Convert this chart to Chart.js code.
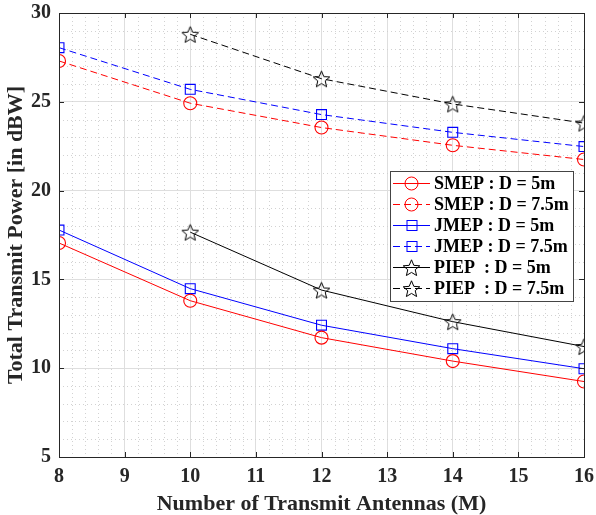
<!DOCTYPE html>
<html>
<head>
<meta charset="utf-8">
<script src="https://cdn.jsdelivr.net/npm/chart.js@4.4.1/dist/chart.umd.min.js"></script>
<style>
  html, body { margin: 0; padding: 0; background: #fff; }
  #wrap { width: 596px; height: 515px; }
</style>
</head>
<body>
<div id="wrap"><canvas id="c" width="596" height="515"></canvas></div>
<script>
// Công suất phát tổng theo số anten phát.
const antennas = [8, 10, 12, 14, 16];
const smep5 = [17.05, 13.8, 11.72, 10.4, 9.25];
const smep75 = [27.3, 24.92, 23.55, 22.55, 21.75];
const jmep5 = [17.78, 14.48, 12.42, 11.1, 9.97];
const jmep75 = [28.05, 25.7, 24.28, 23.28, 22.48];
const piep5 = [null, 17.66, 14.4, 12.62, 11.22];
const piep75 = [null, 28.8, 26.3, 24.88, 23.8];
const xTicks = [8, 9, 10, 11, 12, 13, 14, 15, 16];
const yTicks = [5, 10, 15, 20, 25, 30];

const FONT = '"Liberation Serif", "Times New Roman", serif';
const RED = '#ff0000', BLUE = '#0000ff', BLACK = '#000000';
const DASH = [7, 4];

// ngôi sao 5 cánh rỗng (pointStyle 'star' của Chart.js là dấu *)
function starImage(size) {
    const cv = document.createElement('canvas');
    cv.width = size; cv.height = size;
    const g = cv.getContext('2d');
    const cx = size / 2, cy = size / 2 + 1, R = size / 2 - 0.8, r = R * 0.45;
    g.beginPath();
    for (let i = 0; i < 10; i++) {
        const a = -Math.PI / 2 + i * Math.PI / 5;
        const rr = i % 2 ? r : R;
        const px = cx + rr * Math.cos(a), py = cy + rr * Math.sin(a);
        i ? g.lineTo(px, py) : g.moveTo(px, py);
    }
    g.closePath();
    g.strokeStyle = BLACK; g.lineWidth = 1; g.lineJoin = 'miter'; g.stroke();
    return cv;
}
const STAR = starImage(19);

const pts = (vals) => antennas.map((m, i) => ({ x: m, y: vals[i] })).filter((p) => p.y != null);

const series = [
    { label: 'SMEP : D = 5m', vals: smep5, color: RED, style: 'circle', r: 6.5, dash: [] },
    { label: 'SMEP : D = 7.5m', vals: smep75, color: RED, style: 'circle', r: 6.5, dash: DASH },
    { label: 'JMEP : D = 5m', vals: jmep5, color: BLUE, style: 'rect', r: 7, dash: [] },
    { label: 'JMEP : D = 7.5m', vals: jmep75, color: BLUE, style: 'rect', r: 7, dash: DASH },
    { label: 'PIEP  : D = 5m', vals: piep5, color: BLACK, style: STAR, r: 9, dash: [] },
    { label: 'PIEP  : D = 7.5m', vals: piep75, color: BLACK, style: STAR, r: 9, dash: DASH },
];

// lưới phụ chấm + khung + vạch chia kiểu MATLAB
const frame = {
    id: 'frame',
    beforeDatasetsDraw(chart) {
        const { ctx, chartArea: a, scales: { x, y } } = chart;
        ctx.save();
        ctx.strokeStyle = '#d2d2d2'; ctx.lineWidth = 1; ctx.setLineDash([1, 3]);
        for (let v = 8.2; v < 16; v += 0.2) {
            if (Math.abs(v - Math.round(v)) < 1e-6) continue;
            const px = Math.round(x.getPixelForValue(v)) + 0.5;
            ctx.beginPath(); ctx.moveTo(px, a.top); ctx.lineTo(px, a.bottom); ctx.stroke();
        }
        for (let v = 6; v < 30; v += 1) {
            if (v % 5 === 0) continue;
            const py = Math.round(y.getPixelForValue(v)) + 0.5;
            ctx.beginPath(); ctx.moveTo(a.left, py); ctx.lineTo(a.right, py); ctx.stroke();
        }
        ctx.restore();
    },
    afterDatasetsDraw(chart) {
        const { ctx, chartArea: a, scales: { x, y } } = chart;
        ctx.save();
        ctx.strokeStyle = '#262626'; ctx.lineWidth = 1; ctx.setLineDash([]);
        const T = 5;
        ctx.beginPath();
        xTicks.forEach((v) => {
            const px = Math.round(x.getPixelForValue(v)) + 0.5;
            ctx.moveTo(px, a.bottom); ctx.lineTo(px, a.bottom - T);
            ctx.moveTo(px, a.top); ctx.lineTo(px, a.top + T);
        });
        yTicks.forEach((v) => {
            const py = Math.round(y.getPixelForValue(v)) + 0.5;
            ctx.moveTo(a.left, py); ctx.lineTo(a.left + T, py);
            ctx.moveTo(a.right, py); ctx.lineTo(a.right - T, py);
        });
        ctx.stroke();
        ctx.strokeRect(Math.round(a.left) + 0.5, Math.round(a.top) + 0.5,
            Math.round(a.right - a.left), Math.round(a.bottom - a.top));
        ctx.restore();
    },
};

// chú thích đặt trong vùng vẽ, góc phải
const legendBox = {
    id: 'legendBox',
    afterDraw(chart) {
        const { ctx, chartArea: a } = chart;
        const bx = a.right - 194, by = a.top + 158, bw = 183, bh = 130, rowH = 21;
        ctx.save();
        ctx.fillStyle = '#fff'; ctx.fillRect(bx, by, bw, bh);
        ctx.strokeStyle = '#444'; ctx.lineWidth = 1;
        ctx.strokeRect(bx + 0.5, by + 0.5, bw, bh);
        ctx.font = 'bold 18px ' + FONT;
        ctx.textBaseline = 'middle';
        series.forEach((s, i) => {
            const cy = by + 12 + i * rowH;
            const x0 = bx + 3, x1 = bx + 40, mx = (x0 + x1) / 2;
            ctx.strokeStyle = s.color; ctx.lineWidth = 1; ctx.setLineDash(s.dash);
            ctx.beginPath(); ctx.moveTo(x0, cy + 0.5); ctx.lineTo(x1, cy + 0.5); ctx.stroke();
            ctx.setLineDash([]);
            if (s.style === 'circle') {
                ctx.beginPath(); ctx.arc(mx, cy + 0.5, 6.5, 0, Math.PI * 2); ctx.stroke();
            } else if (s.style === 'rect') {
                ctx.strokeRect(mx - 4.5, cy - 4.5, 10, 10);
            } else {
                ctx.drawImage(STAR, mx - 9.5, cy - 9);
            }
            ctx.fillStyle = '#000';
            ctx.fillText(s.label, bx + 44, cy + 1);
        });
        ctx.restore();
    },
};

new Chart(document.getElementById('c'), {
    type: 'line',
    data: {
        datasets: series.map((s) => ({
            label: s.label,
            data: pts(s.vals),
            borderColor: s.color,
            backgroundColor: 'rgba(0,0,0,0)',
            borderWidth: 1,
            borderDash: s.dash,
            pointStyle: s.style,
            pointRadius: s.r,
            pointBorderColor: s.color,
            pointBorderWidth: 1.1,
            pointBackgroundColor: 'rgba(0,0,0,0)',
            tension: 0,
        })),
    },
    options: {
        responsive: false,
        animation: false,
        layout: { padding: { top: 13, right: 12, left: 0, bottom: 0 } },
        plugins: { legend: { display: false }, tooltip: { enabled: false } },
        scales: {
            x: {
                type: 'linear', min: 8, max: 16,
                afterFit: (s) => { s.height = 58; s.paddingLeft = 0; s.paddingRight = 0; },
                afterBuildTicks: (s) => { s.ticks = xTicks.map((v) => ({ value: v })); },
                ticks: { padding: 8, color: '#262626', font: { family: FONT, size: 20, weight: 'bold' } },
                grid: { color: '#dedede', drawTicks: false },
                border: { display: false },
                title: {
                    display: true, text: 'Number of Transmit Antennas (M)', color: '#262626',
                    font: { family: FONT, size: 22, weight: 'bold' }, padding: { top: 0, bottom: -3 },
                },
            },
            y: {
                min: 5, max: 30,
                afterFit: (s) => { s.width = 59; s.paddingTop = 0; s.paddingBottom = 0; },
                afterBuildTicks: (s) => { s.ticks = yTicks.map((v) => ({ value: v })); },
                ticks: { padding: 8, color: '#262626', font: { family: FONT, size: 20, weight: 'bold' } },
                grid: { color: '#dedede', drawTicks: false },
                border: { display: false },
                title: {
                    display: true, text: 'Total Transmit Power [in dBW]', color: '#262626',
                    font: { family: FONT, size: 22, weight: 'bold' }, padding: { top: 3, bottom: 0 },
                },
            },
        },
    },
    plugins: [frame, legendBox],
});
</script>
</body>
</html>
